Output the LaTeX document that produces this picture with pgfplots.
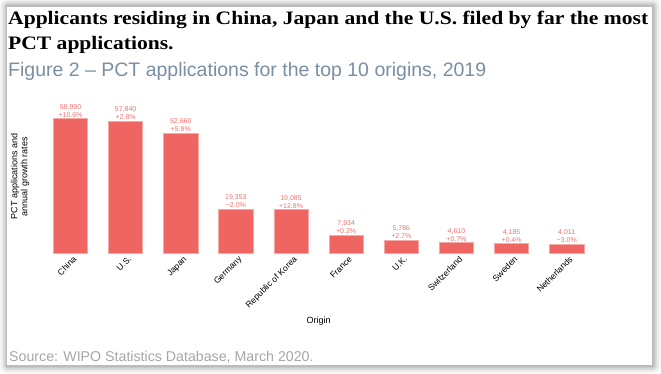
\documentclass[border=0pt]{standalone}
\usepackage{pgfplots}
\pgfplotsset{compat=1.18}
\usepackage{fontspec}
\setmainfont{Liberation Sans}
\newfontfamily\titlefont{Liberation Serif}
\definecolor{barred}{HTML}{EE6561}
\definecolor{lblred}{HTML}{EE7470}
\definecolor{subcol}{HTML}{7A8FA2}
\definecolor{srccol}{HTML}{A6A6A6}
\begin{document}
\begin{tikzpicture}[x=1pt,y=1pt]
\useasboundingbox (0,0) rectangle (661,-374);
\fill[white] (0,0) rectangle (661,-374);
% card shadow
\foreach \d/\o in {8/0.015,7/0.02,6/0.025,5/0.03,4/0.035,3/0.04,2/0.05,1/0.07}{
  \fill[black,opacity=\o,rounded corners=\d pt] (7-\d,-6+\d) rectangle (653+\d,-366-\d);
}
\fill[white] (7,-7) rectangle (652,-365);
% titles
\node[anchor=base west,inner sep=0pt,font=\titlefont\bfseries\fontsize{19}{22}\selectfont] at (8,-25) {\scalebox{1.135}[1]{Applicants residing in China, Japan and the U.S. filed by far the most}};
\node[anchor=base west,inner sep=0pt,font=\titlefont\bfseries\fontsize{19}{22}\selectfont] at (8,-50) {\scalebox{1.135}[1]{PCT applications.}};
\node[anchor=base west,inner sep=0pt,text=subcol,font=\fontsize{19.5}{22}\selectfont] at (8,-76.5) {Figure 2 – PCT applications for the top 10 origins, 2019};
\node[anchor=base west,inner sep=0pt,text=srccol,font=\fontsize{14.2}{16}\selectfont] at (9,-361) {Source: WIPO Statistics Database, March 2020.};
% axis labels
\node[rotate=90,align=center,inner sep=0pt,font=\fontsize{9}{10}\selectfont] at (20,-176.5) {PCT applications and\\annual growth rates};
\node[anchor=base,inner sep=0pt,font=\fontsize{9}{10}\selectfont] at (318.6,-323) {Origin};
\begin{axis}[
  at={(31.9pt,-253.3pt)}, anchor=south west,
  scale only axis, width=573.4pt, height=148.3pt,
  xmin=-0.7, xmax=9.7, ymin=0, ymax=65000,
  axis line style={draw=none},
  major tick length=0pt,
  ytick=\empty,
  xtick={0,1,2,3,4,5,6,7,8,9},
  xticklabels={China,U.S.,Japan,Germany,Republic of Korea,France,U.K.,Switzerland,Sweden,Netherlands},
  xticklabel style={rotate=45,anchor=north east,inner sep=1pt,font=\fontsize{8.6}{9}\selectfont,xshift=1pt,yshift=-2pt},
  clip=false,
  nodes near coords,
  point meta=explicit symbolic,
  every node near coord/.append style={align=center,text=lblred,font=\fontsize{7}{8}\selectfont,anchor=south,inner sep=1pt},
]
\addplot[ybar, bar width=34.3pt, fill=barred, draw=barred!55!white, line width=0.6pt] coordinates {
  (0,58990) [{58,990\\+10.6\%}]
  (1,57840) [{57,840\\+2.8\%}]
  (2,52660) [{52,660\\+5.9\%}]
  (3,19353) [{19,353\\−2.0\%}]
  (4,19085) [{19,085\\+12.8\%}]
  (5,7934) [{7,934\\+0.2\%}]
  (6,5786) [{5,786\\+2.7\%}]
  (7,4610) [{4,610\\+0.7\%}]
  (8,4185) [{4,185\\+0.4\%}]
  (9,4011) [{4,011\\−3.0\%}]
};
\end{axis}
\end{tikzpicture}
\end{document}
